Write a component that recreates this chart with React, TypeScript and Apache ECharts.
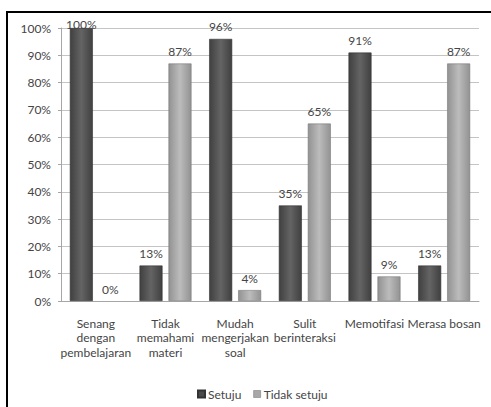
import React, { useEffect, useRef } from "react";
import * as echarts from "echarts";

const categories = [
  "Senang\ndengan\npembelajaran",
  "Tidak\nmemahami\nmateri",
  "Mudah\nmengerjakan\nsoal",
  "Sulit\nberinteraksi",
  "Memotifasi",
  "Merasa bosan",
];
const setuju = [100, 13, 96, 35, 91, 13];
const tidakSetuju = [0, 87, 4, 65, 9, 87];
const seriesNames = ["Setuju", "Tidak setuju"];

const FONT = "Lato, 'Liberation Sans', sans-serif";
const TEXT = "#454545";

const darkFill = new echarts.graphic.LinearGradient(0, 0, 1, 0, [
  { offset: 0, color: "#404040" },
  { offset: 0.5, color: "#646464" },
  { offset: 1, color: "#404040" },
]);
const lightFill = new echarts.graphic.LinearGradient(0, 0, 1, 0, [
  { offset: 0, color: "#929292" },
  { offset: 0.5, color: "#bcbcbc" },
  { offset: 1, color: "#929292" },
]);

// Labels of bars reaching the axis top sit on the bar top; empty bars get no outline
const toData = (values: number[]) =>
  values.map((v) => {
    if (v >= 100) return { value: v, label: { distance: -2 } };
    if (v === 0) return { value: v, itemStyle: { borderWidth: 0 } };
    return v;
  });

export default function App() {
  const ref = useRef<HTMLDivElement>(null);

  useEffect(() => {
    if (!ref.current) return;
    const chart = echarts.init(ref.current, null, { renderer: "svg" });
    const label = {
      show: true,
      position: "top" as const,
      distance: 6,
      formatter: "{c}%",
      color: TEXT,
      fontSize: 12,
      fontFamily: FONT,
    };
    chart.setOption({
      animation: false,
      backgroundColor: "#ffffff",
      grid: { left: 61, right: 12, top: 28, bottom: 106 },
      legend: {
        left: 192,
        top: 383,
        icon: "rect",
        itemWidth: 7,
        itemHeight: 7,
        itemGap: 12,
        textStyle: { color: TEXT, fontSize: 12, fontFamily: FONT, padding: [0, 0, 0, -2] },
        data: [
          { name: seriesNames[0], itemStyle: { color: "#4a4a4a" } },
          { name: seriesNames[1], itemStyle: { color: "#a8a8a8", borderColor: "#808080", borderWidth: 0.6 } },
        ],
      },
      xAxis: {
        type: "category",
        data: categories,
        axisLine: { lineStyle: { color: "#a6a6a6" } },
        axisTick: { show: false },
        axisLabel: {
          color: TEXT,
          fontSize: 12,
          fontFamily: FONT,
          lineHeight: 14.5,
          margin: 15,
          interval: 0,
          verticalAlign: "top",
        },
      },
      yAxis: {
        type: "value",
        min: 0,
        max: 100,
        interval: 10,
        axisLine: { show: true, lineStyle: { color: "#a6a6a6" } },
        axisTick: { show: true, length: 3, lineStyle: { color: "#a6a6a6" } },
        axisLabel: {
          formatter: "{value}%",
          color: TEXT,
          fontSize: 12,
          fontFamily: FONT,
          margin: 10,
        },
        splitLine: { lineStyle: { color: "#c4c4c4" } },
      },
      series: [
        {
          name: seriesNames[0],
          type: "bar",
          data: toData(setuju),
          barWidth: 23,
          barGap: "26%",
          itemStyle: { color: darkFill, borderColor: "#333333", borderWidth: 0.6 },
          label,
        },
        {
          name: seriesNames[1],
          type: "bar",
          data: toData(tidakSetuju),
          barWidth: 23,
          itemStyle: { color: lightFill, borderColor: "#7a7a7a", borderWidth: 0.6 },
          label,
        },
      ],
      graphic: [
        {
          type: "line",
          shape: { x1: 6, y1: 12, x2: 491, y2: 12 },
          style: { stroke: "#000000", lineWidth: 2 },
          z: 100,
        },
        {
          type: "line",
          shape: { x1: 7, y1: 11, x2: 7, y2: 407 },
          style: { stroke: "#000000", lineWidth: 2 },
          z: 100,
        },
      ],
    });
    return () => chart.dispose();
  }, []);

  return (
    <div
      ref={ref}
      style={{ position: "fixed", left: 0, top: 0, width: 491, height: 407 }}
    />
  );
}
